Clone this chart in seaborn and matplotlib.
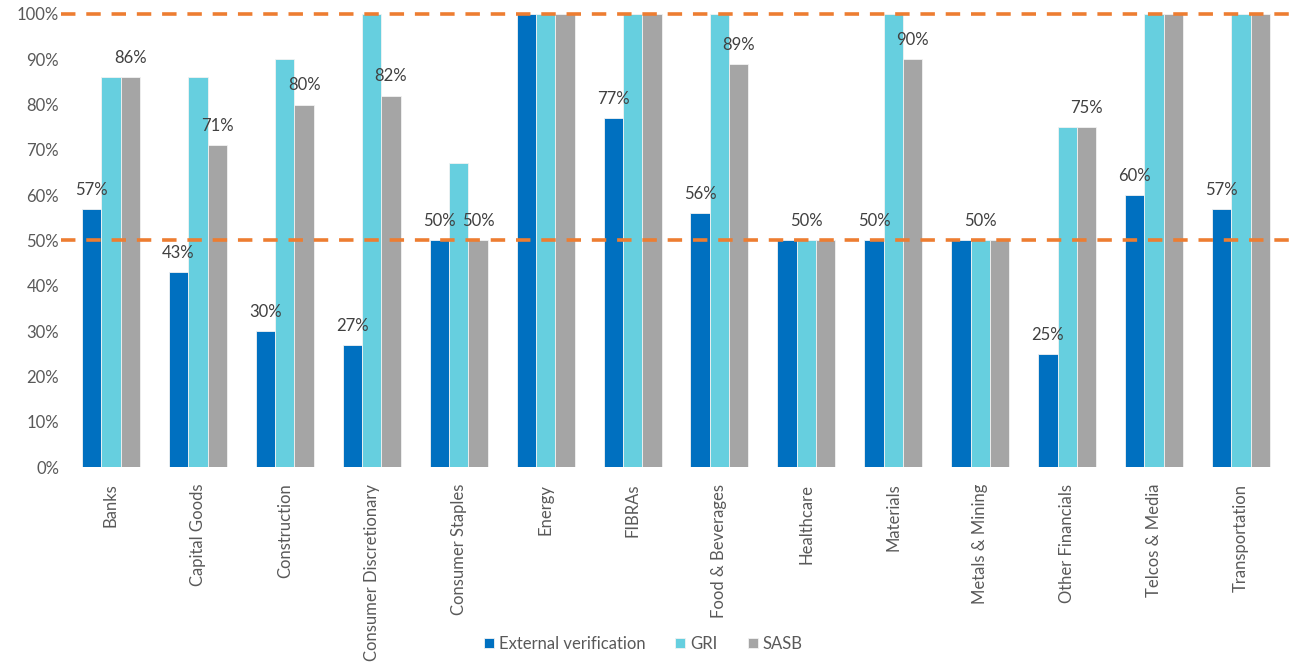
import matplotlib
matplotlib.use("Agg")
import matplotlib.pyplot as plt
import matplotlib.transforms as mtransforms
import seaborn as sns
import pandas as pd

categories = ["Banks", "Capital Goods", "Construction", "Consumer Discretionary",
              "Consumer Staples", "Energy", "FIBRAs", "Food & Beverages", "Healthcare",
              "Materials", "Metals & Mining", "Other Financials", "Telcos & Media",
              "Transportation"]
series_names = ["External verification", "GRI", "SASB"]
ext_verification = [57, 43, 30, 27, 50, 100, 77, 56, 50, 50, 50, 25, 60, 57]
gri = [86, 86, 90, 100, 67, 100, 100, 100, 50, 100, 50, 75, 100, 100]
sasb = [86, 71, 80, 82, 50, 100, 100, 89, 50, 90, 50, 75, 100, 100]
# which series carries the data label in each category
label_ev = [1, 1, 1, 1, 1, 0, 1, 1, 0, 1, 0, 1, 1, 1]
label_gri = [0, 0, 0, 0, 0, 0, 0, 0, 1, 0, 1, 0, 0, 0]
label_sasb = [1, 1, 1, 1, 1, 0, 0, 1, 0, 1, 0, 1, 0, 0]
reference_lines = [50, 100]
colors = ["#0070C0", "#66CFDF", "#A5A5A5"]

sns.set_theme(style="white")
plt.rcParams["font.family"] = ["Lato", "DejaVu Sans"]

rows = []
for vals, name in zip([ext_verification, gri, sasb], series_names):
    for c, v in zip(categories, vals):
        rows.append({"cat": c, "series": name, "val": v / 100})
df = pd.DataFrame(rows)

fig = plt.figure(figsize=(13.02, 6.65), dpi=100)
ax = fig.add_axes([0.0518, 0.2977, 0.9348, 0.6813])

sns.barplot(data=df, x="cat", y="val", hue="series", order=categories,
            hue_order=series_names, palette=colors, saturation=1, width=0.667,
            gap=0, edgecolor="#F2F2F2", linewidth=0.6, ax=ax, legend=True)

ax.set_ylim(0, 1)
ax.set_xlim(-0.5, len(categories) - 0.5)
ax.set_yticks([i / 10 for i in range(11)])
ax.set_yticklabels([f"{i * 10}%" for i in range(11)])
ax.set_xlabel("")
ax.set_ylabel("")
ax.tick_params(axis="both", length=0, colors="#595959", labelsize=12)
ax.tick_params(axis="y", pad=6)
ax.tick_params(axis="x", pad=12)
plt.setp(ax.get_xticklabels(), rotation=90)
for s in ax.spines.values():
    s.set_visible(False)

trans = mtransforms.blended_transform_factory(ax.transAxes, ax.transData)
for y in reference_lines:
    ax.plot([-0.005, 1.012], [y / 100, y / 100], transform=trans, color="#ED7D31",
            lw=2.6, ls=(0, (4, 3)), clip_on=False, zorder=5)

flags = [label_ev, label_gri, label_sasb]
for container, fl in zip(ax.containers, flags):
    for patch, f in zip(container.patches, fl):
        if f:
            h = patch.get_height()
            ax.annotate(f"{round(h * 100)}%", (patch.get_x() + patch.get_width() / 2, h),
                        xytext=(0, 8), textcoords="offset points", ha="center", va="bottom",
                        fontsize=12, color="#404040", zorder=6)

handles, labels = ax.get_legend_handles_labels()
ax.legend(handles, labels, loc="center", bbox_to_anchor=(0.473, -0.39), ncol=3,
          frameon=False, fontsize=12, handlelength=0.6, handleheight=0.6,
          handletextpad=0.3, columnspacing=1.8, labelcolor="#595959")

fig.savefig("out.png", dpi=100)
